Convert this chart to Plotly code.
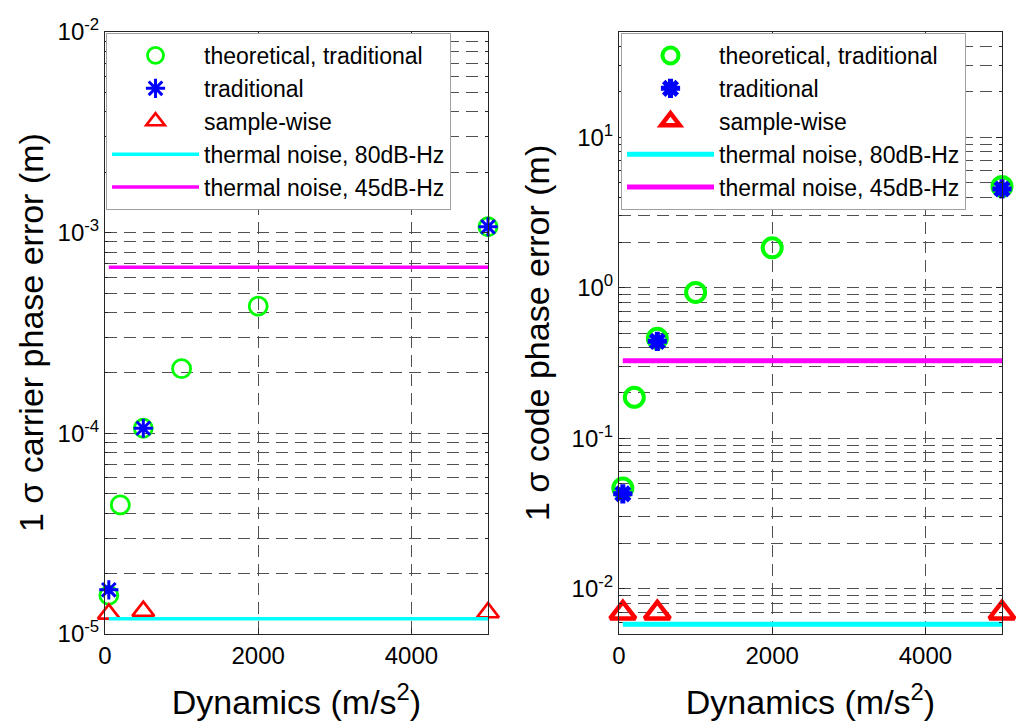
import plotly.graph_objects as go
import numpy as np

# ---------------- data ----------------
dyn = [50, 200, 500, 1000, 2000, 5000]
trad_x = [50, 500, 5000]
sample_x = [50, 500, 5000]
thermal_x = [50, 5000]

carrier_theo = [1.56e-5, 4.4e-5, 1.06e-4, 2.1e-4, 4.3e-4, 1.07e-3]
carrier_trad = [1.66e-5, 1.06e-4, 1.07e-3]
carrier_sample = [1.26e-5, 1.30e-5, 1.28e-5]
carrier_th80 = [1.19e-5, 1.19e-5]
carrier_th45 = [6.73e-4, 6.73e-4]

code_theo = [0.0466, 0.187, 0.461, 0.93, 1.84, 4.71]
code_trad = [0.0427, 0.44, 4.53]
code_sample = [0.0069, 0.0069, 0.0069]
code_th80 = [0.0058, 0.0058]
code_th45 = [0.327, 0.327]

x_ticks = [0, 2000, 4000]
x_ticktext = ["0", "2000", "4000"]
left_decades = [-5, -4, -3, -2]
right_decades = [-2, -1, 0, 1]

names = ["theoretical, traditional", "traditional", "sample-wise",
         "thermal noise, 80dB-Hz", "thermal noise, 45dB-Hz"]
y_titles = ["1 σ carrier phase error (m)", "1 σ code phase error (m)"]
x_title = "Dynamics (m/s<sup>2</sup>)"

FONT = "Liberation Sans, Arial, sans-serif"
GREEN, BLUE, RED, CYAN, MAG = "#00FF00", "#0000FF", "#FF0000", "#00FFFF", "#FF00FF"

# the page body has an 8px margin; positions below are shifted to compensate
OFF = 8
W, H = 1024, 728


def minor_vals(lo, hi):
    vals = []
    for d in range(int(np.floor(np.log10(lo))) - 1, int(np.ceil(np.log10(hi))) + 1):
        for m in range(2, 10):
            v = m * 10.0 ** d
            if lo * 0.999 <= v <= hi * 1.001:
                vals.append(v)
    return vals


fig = go.Figure()


def add_panel(xa, ya, leg, theo, trad, sample, th80, th45, big):
    lw_c = 4 if big else 2.8
    sz_c = 19 if big else 18
    fig.add_trace(go.Scatter(x=dyn, y=theo, mode="markers", name=names[0],
                             marker=dict(symbol="circle-open", size=sz_c, color=GREEN,
                                         line=dict(width=lw_c, color=GREEN)),
                             xaxis=xa, yaxis=ya, legend=leg, cliponaxis=False))
    fig.add_trace(go.Scatter(x=trad_x, y=trad, mode="markers", name=names[1],
                             marker=dict(symbol="asterisk-open", size=16, color=BLUE,
                                         line=dict(width=5 if big else 3, color=BLUE)),
                             xaxis=xa, yaxis=ya, legend=leg, cliponaxis=False))
    fig.add_trace(go.Scatter(x=sample_x, y=sample, mode="markers", name=names[2],
                             marker=dict(symbol="triangle-up-open", size=22 if big else 19,
                                         color=RED,
                                         line=dict(width=4.5 if big else 2.7, color=RED)),
                             xaxis=xa, yaxis=ya, legend=leg, cliponaxis=False))
    fig.add_trace(go.Scatter(x=thermal_x, y=th80, mode="lines", name=names[3],
                             line=dict(color=CYAN, width=5 if big else 3.5),
                             xaxis=xa, yaxis=ya, legend=leg, cliponaxis=False))
    fig.add_trace(go.Scatter(x=thermal_x, y=th45, mode="lines", name=names[4],
                             line=dict(color=MAG, width=5 if big else 3.5),
                             xaxis=xa, yaxis=ya, legend=leg, cliponaxis=False))


add_panel("x", "y", "legend", carrier_theo, carrier_trad, carrier_sample,
          carrier_th80, carrier_th45, False)
add_panel("x2", "y2", "legend2", code_theo, code_trad, code_sample,
          code_th80, code_th45, True)

lv = [10.0 ** d for d in left_decades]
lt = [f"10<sup>{d}</sup>" for d in left_decades]
rv = [10.0 ** d for d in right_decades]
rt = [f"10<sup>{d}</sup>" for d in right_decades]

GRID = "#505050"
DASH = "12px,7px"
common_x = dict(range=[0, 5000], tickvals=x_ticks, ticktext=x_ticktext,
                showgrid=True, gridcolor=GRID, griddash=DASH, gridwidth=1,
                showline=True, linecolor="#262626", linewidth=1, mirror="ticks",
                ticks="inside", ticklen=6, tickcolor="#262626",
                tickfont=dict(family=FONT, size=24, color="black"),
                zeroline=False, automargin=False,
                title=dict(text=x_title,
                           font=dict(family=FONT, size=34, color="black"), standoff=22))
common_y = dict(type="log", showgrid=True, gridcolor=GRID, griddash=DASH,
                gridwidth=1, showline=True, linecolor="#262626", linewidth=1,
                mirror="ticks", ticks="inside", ticklen=6, tickcolor="#262626",
                tickfont=dict(family=FONT, size=24, color="black"),
                zeroline=False, automargin=False)


def minor_cfg(lo, hi):
    return dict(tickvals=minor_vals(lo, hi), showgrid=True, gridcolor=GRID,
                griddash=DASH, gridwidth=1, ticks="inside", ticklen=3,
                tickcolor="#262626")


legend_common = dict(font=dict(family=FONT, size=23, color="black"),
                     bgcolor="white", bordercolor="#a0a0a0", borderwidth=1,
                     xanchor="left", yanchor="top", itemwidth=87,
                     traceorder="normal", tracegroupgap=0)

top, bottom = 32 - OFF, 634 - OFF
plot_h = bottom - top

fig.update_layout(
    width=W, height=H,
    margin=dict(l=0, r=0, t=top, b=H - bottom),
    paper_bgcolor="white", plot_bgcolor="white",
    font=dict(family=FONT, color="black"),
    xaxis=dict(domain=[(105 - OFF) / W, (488 - OFF) / W], anchor="y", **common_x),
    xaxis2=dict(domain=[(619 - OFF) / W, (1002 - OFF) / W], anchor="y2", **common_x),
    yaxis=dict(domain=[0, 1], anchor="x", range=[-5, -2], tickvals=lv, ticktext=lt,
               minor=minor_cfg(1e-5, 1e-2), **common_y),
    yaxis2=dict(domain=[0, 1], anchor="x2", range=[np.log10(0.005), np.log10(50)],
                tickvals=rv, ticktext=rt, minor=minor_cfg(0.005, 50), **common_y),
    legend=dict(x=(106 - OFF) / W, y=1 - 1 / plot_h, **legend_common),
    legend2=dict(x=(621 - OFF) / W, y=1 - 1 / plot_h, **legend_common),
    showlegend=True,
)

for txt, cx in zip(y_titles, [31, 537]):
    fig.add_annotation(text=txt, xref="paper", yref="paper",
                       x=(cx - OFF) / W, y=0.5, xanchor="center", yanchor="middle",
                       textangle=-90, showarrow=False,
                       font=dict(family=FONT, size=34, color="black"))

fig.write_html("out.html")
